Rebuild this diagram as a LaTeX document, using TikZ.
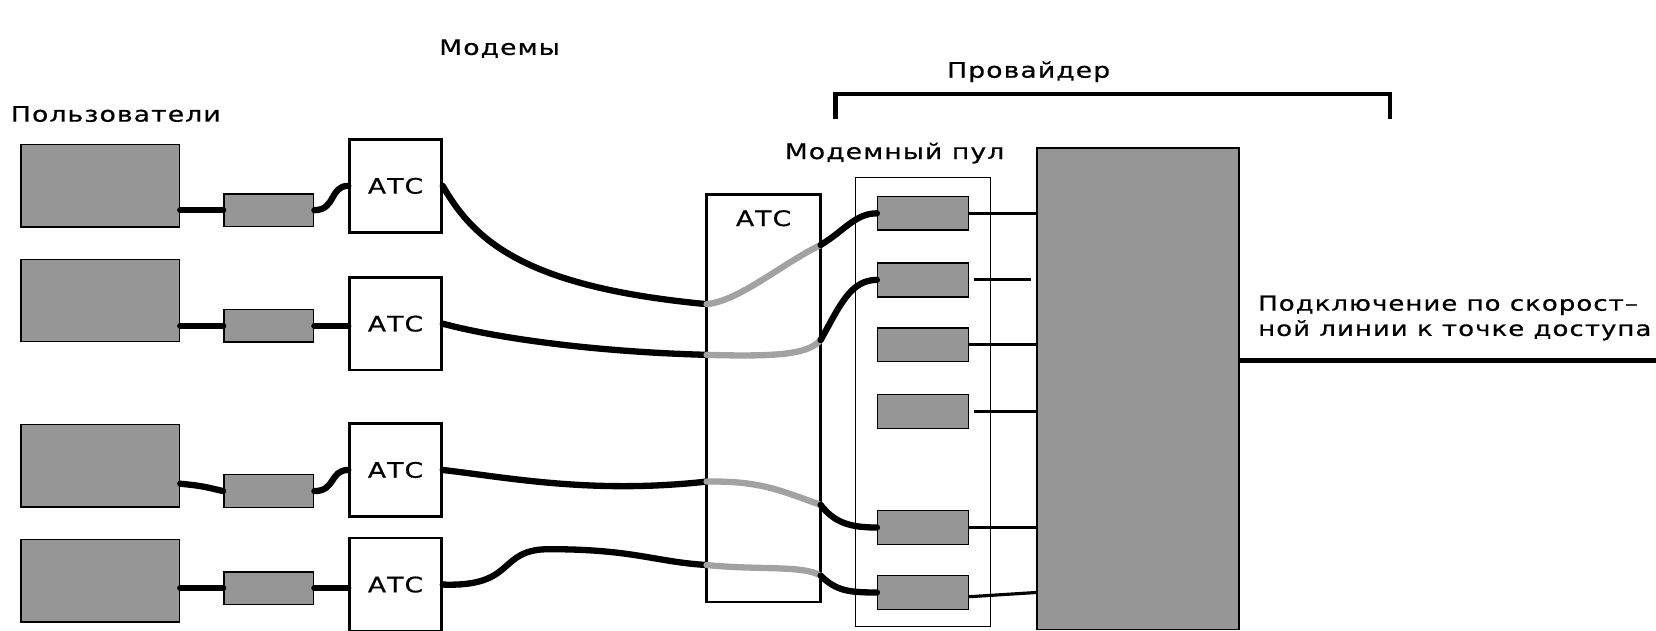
\documentclass[tikz,border=0pt]{standalone}
\usepackage{fontspec}
\setmainfont{DejaVu Sans}[FakeStretch=1.25,LetterSpace=5,FakeBold=0.6]
\usepackage{tikz}
\usetikzlibrary{calc}
\definecolor{boxgray}{RGB}{150,150,150}
\definecolor{lightwire}{RGB}{162,162,162}

\begin{document}
\begin{tikzpicture}[
    x=0.02cm, y=-0.02cm,
    every node/.style={font=\fontsize{11.5}{13.6}\selectfont},
    userpc/.style={draw, line width=0.8pt, fill=boxgray, minimum width=3cm, minimum height=1.56cm, inner sep=0pt},
    modem/.style={draw, line width=0.8pt, fill=boxgray, minimum width=1.7cm, minimum height=0.62cm, inner sep=0pt},
    poolmodem/.style={modem, minimum width=1.72cm, minimum height=0.64cm},
    ats/.style={draw, line width=1.4pt, fill=white, minimum width=1.74cm, minimum height=1.76cm, inner sep=0pt},
    wire/.style={line width=3.4pt, line cap=round},
    wirelight/.style={wire, draw=lightwire},
    link/.style={line width=1.7pt},
    bracket/.style={line width=2.3pt}
]
\useasboundingbox (0,0) rectangle (1568,597);

% titles
\node (modemtitle) at (473,46) {Модемы};
\node (provtitle) at (974,68) {Провайдер};
\node[anchor=west, inner sep=0pt] (usertitle) at (10,108) {Пользователи};
\node (pooltitle) at (847,145) {Модемный пул};
\node[anchor=west, align=left, inner sep=0pt, font=\fontsize{11.2}{13.6}\selectfont] (uplink) at (1191,301) {Подключение по скорост–\\ной линии к точке доступа};

% provider bracket
\coordinate (brl) at (791,113);
\coordinate (brr) at (1316,113);
\draw[bracket] (brl) -- ++(0,-24) -| (brr);

% users, modems, local exchanges
\node[userpc] (u1) at (95,176) {};
\node[userpc] (u2) at (95,284.5) {};
\node[userpc] (u3) at (95,441) {};
\node[userpc] (u4) at (95,550) {};

\node[modem] (m1) at (254.5,199) {};
\node[modem] (m2) at (254.5,308.5) {};
\node[modem] (m3) at (254.5,465) {};
\node[modem] (m4) at (254.5,557) {};

\node[ats] (a1) at (374.5,176) {АТС};
\node[ats] (a2) at (374.5,306.5) {АТС};
\node[ats] (a3) at (374.5,445) {АТС};
\node[ats] (a4) at (374.5,553.5) {АТС};

% provider side exchange
\node[ats, minimum width=2.16cm, minimum height=7.72cm,
      label={[anchor=north, yshift=-0.2cm]north:АТС}] (atsc) at (723,377) {};

% modem pool
\node[draw, line width=0.6pt, minimum width=2.56cm, minimum height=8.5cm] (pool) at (874,380.5) {};
\node[poolmodem] (p1) at (874,202) {};
\node[poolmodem] (p2) at (874,265) {};
\node[poolmodem] (p3) at (874,326.5) {};
\node[poolmodem] (p4) at (874,389.5) {};
\node[poolmodem] (p5) at (874,499.5) {};
\node[poolmodem] (p6) at (874,561) {};

\node[draw, line width=0.8pt, fill=boxgray, minimum width=3.82cm, minimum height=9.12cm, inner sep=0pt] (server) at (1077.5,368) {};

% user side wires
\draw[wire] (m1.west -| u1.east) -- (m1.west);
\draw[wire] (m2.west -| u2.east) -- (m2.west);
\draw[wire] ($(u3.east)+(0,17)$) .. controls (190,460) .. (m3.west);
\draw[wire] (m4.west -| u4.east) -- (m4.west);

\draw[wire] (m1.east) .. controls (318,199) and (312,176) .. (a1.west);
\draw[wire] (m2.east) -- (m2.east -| a2.west);
\draw[wire] (m3.east) .. controls (318,465) and (312,445) .. (a3.west);
\draw[wire] (m4.east) -- (m4.east -| a4.west);

% crossing points at the provider exchange
\coordinate (x1in) at (669,288);  \coordinate (x1out) at (777,232);
\coordinate (x2in) at (669,336);  \coordinate (x2out) at (777,322);
\coordinate (x3in) at (669,456);  \coordinate (x3out) at (777,478);
\coordinate (x4in) at (669,535);  \coordinate (x4out) at (777,545);

\draw[wire] (a1.east) .. controls (450,230) and (500,272) .. (x1in);
\draw[wire] (a2.east) .. controls (470,320) and (560,333) .. (x2in);
\draw[wire] (a3.east) .. controls (480,452) and (560,468) .. (x3in);
\draw[wire] (a4.east) .. controls (490,556) and (470,520) .. (520,520)
            .. controls (600,520) and (620,532) .. (x4in);

\draw[wirelight] (x1in) .. controls (700,285) and (740,250) .. (x1out);
\draw[wirelight] (x2in) .. controls (740,338) and (765,335) .. (x2out);
\draw[wirelight] (x3in) .. controls (720,455) and (740,465) .. (x3out);
\draw[wirelight] (x4in) .. controls (720,540) and (760,535) .. (x4out);

\draw[wire] (x1out) .. controls (800,218) and (810,202) .. (p1.west);
\draw[wire] (x2out) .. controls (795,290) and (805,265) .. (p2.west);
\draw[wire] (x3out) .. controls (790,495) and (805,499.5) .. (p5.west);
\draw[wire] (x4out) .. controls (792,560) and (805,561) .. (p6.west);

% pool to access server
\draw[link] (p1.east) -- (p1.east -| server.west);
\draw[link] ($(p2.east)+(5,0)$) -- ($(p2.east -| server.west)+(-5,0)$);
\draw[link] (p3.east) -- (p3.east -| server.west);
\draw[link] ($(p4.east)+(5,0)$) -- (p4.east -| server.west);
\draw[link] (p5.east) -- (p5.east -| server.west);
\draw[link] ($(p6.east)+(0,4)$) -- (p6.east -| server.west);

% uplink
\coordinate (ap) at (1568,341);
\draw[line width=2.8pt] (server.east |- ap) -- (ap);
\end{tikzpicture}
\end{document}
